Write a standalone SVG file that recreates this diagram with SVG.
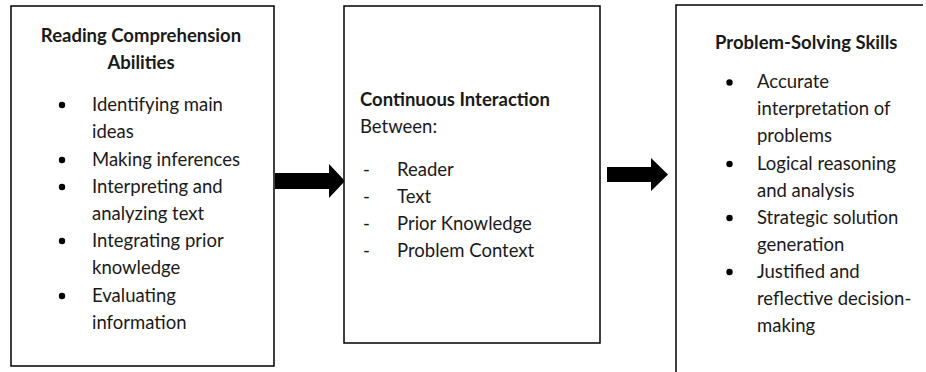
<svg xmlns="http://www.w3.org/2000/svg" width="926" height="372" viewBox="0 0 926 372">
<style>
.box{fill:#fff;stroke:#000;stroke-width:1.5}
text{font-family:Lato,"Open Sans","Liberation Sans",sans-serif;font-size:18.5px;fill:#1a1a1a}
.t{font-weight:bold}
.c{text-anchor:middle}
.dot{fill:#000}
.arrow{fill:#000}
</style>
<rect width="926" height="372" fill="#fff"/>
<g id="connectors">
<polygon class="arrow" points="275,173 329,173 329,164 345,181 329,198 329,189 275,189"/>
<polygon class="arrow" points="607,167 651,167 651,158 668,174.5 651,191 651,182 607,182"/>
</g>
<g id="node-reading">
<rect class="box" x="11" y="6" width="263" height="360"/>
<text class="t c" x="141" y="42">Reading Comprehension</text>
<text class="t c" x="141" y="68.5">Abilities</text>
<circle class="dot" cx="62" cy="105" r="3.2"/>
<text x="92" y="111">Identifying main</text>
<text x="92" y="138.2">ideas</text>
<circle class="dot" cx="62" cy="160" r="3.2"/>
<text x="92" y="165.5">Making inferences</text>
<circle class="dot" cx="62" cy="187" r="3.2"/>
<text x="92" y="192.7">Interpreting and</text>
<text x="92" y="219.9">analyzing text</text>
<circle class="dot" cx="62" cy="241" r="3.2"/>
<text x="92" y="247.1">Integrating prior</text>
<text x="92" y="274.3">knowledge</text>
<circle class="dot" cx="62" cy="296" r="3.2"/>
<text x="92" y="301.5">Evaluating</text>
<text x="92" y="328.7">information</text>
</g>
<g id="node-interaction">
<rect class="box" x="344" y="6" width="256" height="337"/>
<text class="t" x="360" y="106">Continuous Interaction</text>
<text x="360" y="133">Between:</text>
<text x="363" y="175.5">-</text>
<text x="397" y="175.5">Reader</text>
<text x="363" y="202.5">-</text>
<text x="397" y="202.5">Text</text>
<text x="363" y="229.5">-</text>
<text x="397" y="229.5">Prior Knowledge</text>
<text x="363" y="256.5">-</text>
<text x="397" y="256.5">Problem Context</text>
</g>
<g id="node-problem">
<path class="box" d="M923,5 H676 V373" fill="none"/>
<text class="t" x="715" y="48.5">Problem-Solving Skills</text>
<circle class="dot" cx="729.5" cy="82.5" r="3.2"/>
<text x="757" y="88.3">Accurate</text>
<text x="757" y="115.3">interpretation of</text>
<text x="757" y="142.3">problems</text>
<circle class="dot" cx="729.5" cy="164" r="3.2"/>
<text x="757" y="169.8">Logical reasoning</text>
<text x="757" y="196.8">and analysis</text>
<circle class="dot" cx="729.5" cy="218" r="3.2"/>
<text x="757" y="223.8">Strategic solution</text>
<text x="757" y="250.8">generation</text>
<circle class="dot" cx="729.5" cy="272" r="3.2"/>
<text x="757" y="277.5">Justified and</text>
<text x="757" y="304.5">reflective decision-</text>
<text x="757" y="331.5">making</text>
</g>
</svg>
